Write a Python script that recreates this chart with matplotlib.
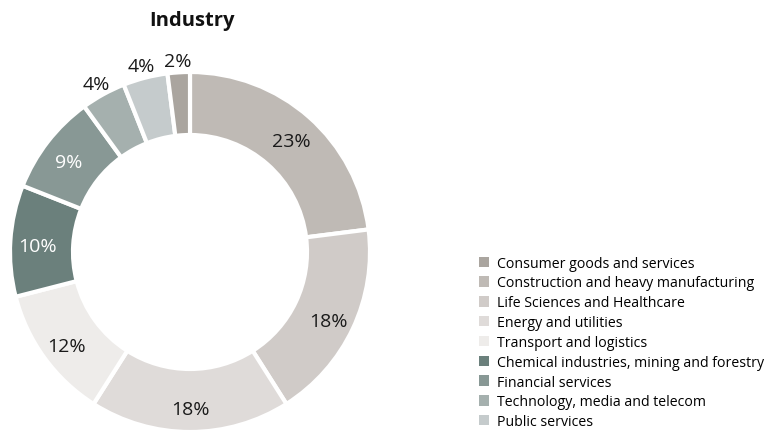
import matplotlib
matplotlib.use("Agg")
import matplotlib.pyplot as plt
from matplotlib.patches import Patch
import numpy as np

plt.rcParams['font.family'] = ['Open Sans', 'DejaVu Sans']

categories = ['Consumer goods and services', 'Construction and heavy manufacturing',
              'Life Sciences and Healthcare', 'Energy and utilities',
              'Transport and logistics', 'Chemical industries, mining and forestry',
              'Financial services', 'Technology, media and telecom', 'Public services']
shares = [2, 23, 18, 18, 12, 10, 9, 4, 4]
colors = ['#aaa59f', '#bfbab5', '#d0cbc8', '#dfdbd9', '#eeecea',
          '#6b807c', '#889895', '#a5b0ae', '#c5cbcc']

# slices run clockwise from 12 o'clock, consumer goods sits just left of the top
order = [1, 2, 3, 4, 5, 6, 7, 8, 0]
vals = [shares[i] for i in order]
cols = [colors[i] for i in order]

fig = plt.figure(figsize=(7.68, 4.35), dpi=100)
ax = fig.add_axes([10 / 768, 2 / 435, 360 / 768, 360 / 435])
wedges, _ = ax.pie(vals, colors=cols, startangle=90, counterclock=False, radius=1,
                   wedgeprops=dict(width=0.35, edgecolor='white', linewidth=3))
ax.set_xlim(-1, 1)
ax.set_ylim(-1, 1)
ax.set_aspect('equal')
ax.axis('off')

for w, v, idx in zip(wedges, vals, order):
    ang = np.deg2rad((w.theta1 + w.theta2) / 2)
    if v >= 5:
        r = 0.85
        tc = 'white' if idx in (5, 6) else '#1a1a1a'
    else:
        r = 1.085
        tc = '#1a1a1a'
    ax.text(r * np.cos(ang), r * np.sin(ang) - 0.02, f'{v}%', ha='center', va='center',
            fontsize=14, color=tc, clip_on=False)

fig.text(192 / 768, 1 - 21 / 435, 'Industry', ha='center', va='center',
         fontsize=14.5, fontweight='bold', color='#111111')

handles = [Patch(facecolor=c, edgecolor='none') for c in colors]
fig.legend(handles, categories, loc='upper left', bbox_to_anchor=(473 / 768, 1 - 251 / 435),
           frameon=False, fontsize=10.2, handlelength=0.75, handleheight=0.75,
           handletextpad=0.55, labelspacing=0.34, borderaxespad=0)

fig.savefig('out.png', dpi=100)
